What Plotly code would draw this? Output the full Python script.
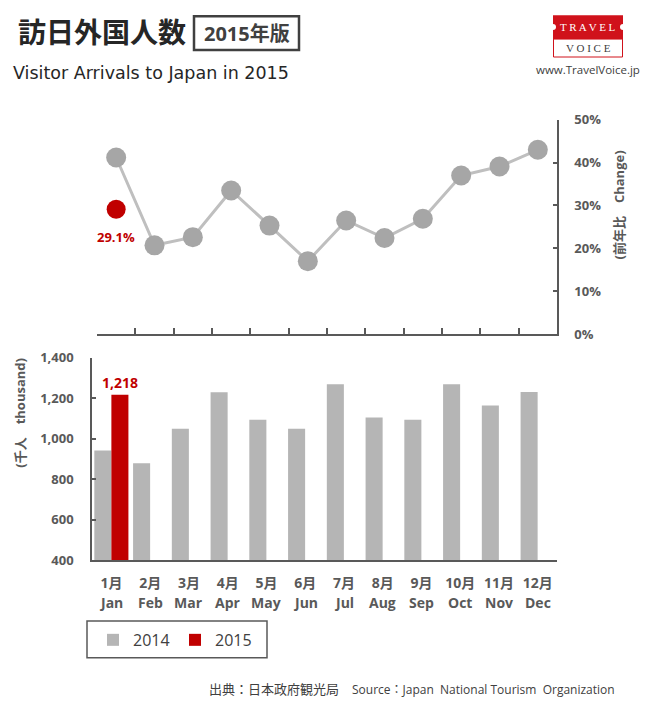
import plotly.graph_objects as go

months_jp = ["1月", "2月", "3月", "4月", "5月", "6月", "7月", "8月", "9月", "10月", "11月", "12月"]
months_en = ["Jan", "Feb", "Mar", "Apr", "May", "Jun", "Jul", "Aug", "Sep", "Oct", "Nov", "Dec"]
change_2014 = [41.2, 20.7, 22.6, 33.5, 25.3, 17.0, 26.5, 22.4, 26.9, 37.0, 39.1, 43.0]
change_2015 = [29.1]
arrivals_2014 = [943, 880, 1050, 1230, 1095, 1050, 1270, 1105, 1095, 1270, 1165, 1232]
arrivals_2015 = [1218]
pct_ticks = [0, 10, 20, 30, 40, 50]
k_ticks = [400, 600, 800, 1000, 1200, 1400]

W, H = 655, 707
FONT = "Open Sans, Noto Sans CJK JP"
JP = "Noto Sans CJK JP"
RED = "#C00000"
AX = "#595959"


def px(x):
    return x / W


def py(y):
    # compensate the vertical rendering compression observed in the capture
    return 1 - (y / 0.978 - 8) / H


fig = go.Figure()

# top: change vs previous year
fig.add_trace(go.Scatter(x=months_jp, y=change_2014, mode="lines+markers", xaxis="x", yaxis="y",
                         line=dict(color="#BFBFBF", width=3),
                         marker=dict(color="#A6A6A6", size=20), showlegend=False, cliponaxis=False))
fig.add_trace(go.Scatter(x=months_jp[:1], y=change_2015, mode="markers", xaxis="x", yaxis="y",
                         marker=dict(color=RED, size=19),
                         showlegend=False, cliponaxis=False))

# bottom: arrivals
fig.add_trace(go.Bar(x=months_jp, y=arrivals_2014, name="2014", xaxis="x2", yaxis="y2",
                     marker=dict(color="#B5B5B5", line=dict(width=0))))
fig.add_trace(go.Bar(x=months_jp[:1], y=arrivals_2015, name="2015", xaxis="x2", yaxis="y2",
                     marker=dict(color=RED, line=dict(width=0)),
                     text=[f"{v:,}" for v in arrivals_2015], textposition="outside",
                     constraintext="none",
                     textfont=dict(color=RED, size=14, family=FONT, weight="bold"),
                     cliponaxis=False))

tickfont = dict(color=AX, size=13, family=FONT, weight="bold")

fig.update_layout(
    width=W, height=H,
    margin=dict(l=0, r=0, t=0, b=0),
    paper_bgcolor="white", plot_bgcolor="white",
    font=dict(family=FONT, color="#404040"),
    barmode="group", bargap=0.12, bargroupgap=0,
    xaxis=dict(domain=[px(97), px(557)], anchor="y", type="category",
               categoryorder="array", categoryarray=months_jp, range=[-0.5, 11.5],
               showline=True, linecolor=AX, linewidth=1.5,
               ticks="inside", tickson="boundaries", ticklen=6, tickcolor=AX, tickwidth=1.5,
               showticklabels=False, showgrid=False, zeroline=False),
    yaxis=dict(domain=[py(334), py(119)], anchor="x", side="right", range=[0, 50],
               tickmode="array", tickvals=pct_ticks, ticktext=[f"{v}%" for v in pct_ticks],
               showline=True, linecolor=AX, linewidth=1.5,
               ticks="inside", ticklen=4, tickcolor=AX, tickwidth=1.5,
               ticklabelstandoff=13, tickfont=tickfont,
               showgrid=False, zeroline=False),
    xaxis2=dict(domain=[px(92), px(557)], anchor="y2", type="category",
                categoryorder="array", categoryarray=months_jp, range=[-0.5, 11.5],
                showline=True, linecolor=AX, linewidth=1.5, ticks="",
                ticklabelstandoff=9,
                tickfont=dict(color=AX, size=14, family=FONT, weight="bold"),
                showgrid=False, zeroline=False),
    yaxis2=dict(domain=[py(561), py(358)], anchor="x2", range=[400, 1400],
                tickmode="array", tickvals=k_ticks, ticktext=[f"{v:,}" for v in k_ticks],
                showline=True, linecolor=AX, linewidth=1.5,
                ticks="inside", ticklen=4, tickcolor=AX, tickwidth=1.5,
                ticklabelstandoff=14, tickfont=tickfont,
                showgrid=False, zeroline=False),
    legend=dict(orientation="h", x=px(93), y=py(641), xanchor="left", yanchor="middle",
                borderwidth=0, bgcolor="rgba(0,0,0,0)",
                font=dict(size=16, color="#404040", family=FONT),
                itemwidth=30, entrywidth=37, traceorder="normal"),
)

shapes = [
    # legend frame
    dict(type="rect", xref="paper", yref="paper", x0=px(87), x1=px(267), y0=py(659), y1=py(622),
         line=dict(color=AX, width=1.5), fillcolor="rgba(0,0,0,0)", layer="below"),
    # 2015 badge
    dict(type="rect", xref="paper", yref="paper", x0=px(194), x1=px(299), y0=py(49), y1=py(15),
         line=dict(color="#404040", width=2.5), fillcolor="white"),
    # logo
    dict(type="rect", xref="paper", yref="paper", x0=px(553), x1=px(623), y0=py(38), y1=py(14),
         line=dict(width=0), fillcolor="#D0121B"),
    dict(type="rect", xref="paper", yref="paper", x0=px(553.5), x1=px(622.5), y0=py(56), y1=py(38),
         line=dict(color="#D0121B", width=1), fillcolor="white"),
    dict(type="circle", xref="paper", yref="paper", x0=px(550), x1=px(556), y0=py(29), y1=py(23),
         line=dict(width=0), fillcolor="white"),
    dict(type="circle", xref="paper", yref="paper", x0=px(620), x1=px(626), y0=py(29), y1=py(23),
         line=dict(width=0), fillcolor="white"),
]

annotations = [
    dict(text="<b>訪日外国人数</b>", x=px(16), y=py(30), xanchor="left", yanchor="middle",
         font=dict(size=28, color="#262626", family=JP)),
    dict(text="<b>2015年版</b>", x=px(246.5), y=py(32), xanchor="center", yanchor="middle",
         font=dict(size=20, color="#404040", family=FONT)),
    dict(text="Visitor Arrivals to Japan in 2015", x=px(11), y=py(72), xanchor="left", yanchor="middle",
         font=dict(size=17.5, color="#262626", family="DejaVu Sans")),
    dict(text="T R A V E L", x=px(588), y=py(26), xanchor="center", yanchor="middle",
         font=dict(size=11, color="white", family="Liberation Serif")),
    dict(text="V O I C E", x=px(588), y=py(47), xanchor="center", yanchor="middle",
         font=dict(size=11, color="#404040", family="Liberation Serif")),
    dict(text="www.TravelVoice.jp", x=px(588), y=py(69), xanchor="center", yanchor="middle",
         font=dict(size=11.5, color="#404040", family=FONT)),
    dict(text="<b>(前年比　Change)</b>", x=px(619), y=py(205), xanchor="center", yanchor="middle",
         textangle=-90, font=dict(size=13, color=AX, family=FONT)),
    dict(text="<b>(千人　thousand)</b>", x=px(20), y=py(413), xanchor="center", yanchor="middle",
         textangle=-90, font=dict(size=13, color=AX, family=FONT)),
    dict(text="出典：日本政府観光局　<span style='font-size:12px'>Source：Japan  National Tourism  Organization</span>",
         x=px(617), y=py(690), xanchor="right", yanchor="middle",
         font=dict(size=13, color="#404040", family=FONT)),
]
for a in annotations:
    a.update(xref="paper", yref="paper", showarrow=False)

# data label for the 2015 change point
for m, v in zip(months_jp, change_2015):
    annotations.append(dict(text=f"<b>{v:.1f}%</b>", x=m, y=v, xref="x", yref="y",
                            xanchor="center", yanchor="middle", yshift=-28, showarrow=False,
                            font=dict(size=13, color=RED, family=FONT)))

# English month names under the Japanese tick labels, positioned on the category axis
for m_jp, m_en in zip(months_jp, months_en):
    annotations.append(dict(text=f"<b>{m_en}</b>", x=m_jp, xref="x2", y=py(603), yref="paper",
                            xanchor="center", yanchor="middle", showarrow=False,
                            font=dict(size=14, color=AX, family=FONT)))

fig.update_layout(shapes=shapes, annotations=annotations)

fig.write_html("out.html")
